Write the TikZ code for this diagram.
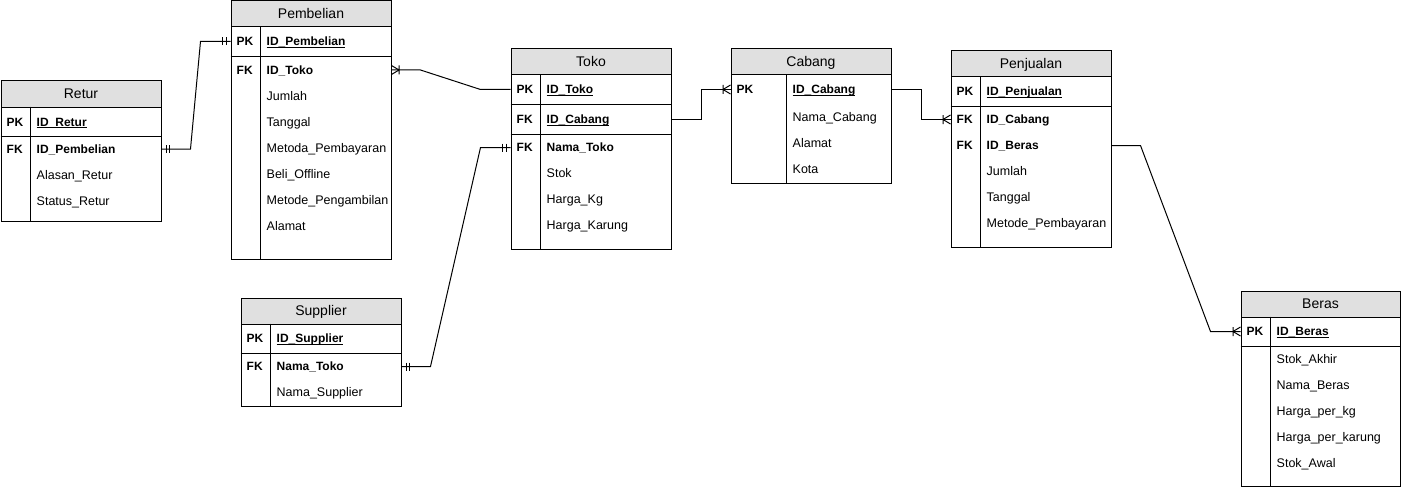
\documentclass[tikz,border=0pt]{standalone}
\usepackage{fontspec}
\setmainfont{Liberation Sans}
\definecolor{hdrgray}{RGB}{224,224,224}
\newcommand\keyul[1]{\setbox0=\hbox{#1}\rlap{\rule[-2pt]{\wd0}{0.9pt}}\box0}
\begin{document}
\begin{tikzpicture}[x=1pt,y=-1pt,
  frame/.style={draw, line width=1pt, anchor=north west, inner sep=0, minimum width=160pt},
  hdr/.style={draw, fill=hdrgray, line width=1pt, anchor=north west, inner sep=0,
    minimum width=160pt, minimum height=26pt, font=\fontsize{14}{16}\selectfont,
    text height=12.7pt, text depth=3pt},
  rule/.style={line width=1pt},
  key/.style={anchor=west, inner sep=0, text height=8.6pt, text depth=0pt,
    font=\fontsize{12}{14}\selectfont\bfseries},
  att/.style={anchor=west, inner sep=0, text height=8.6pt, text depth=0pt,
    font=\fontsize{12.5}{14}\selectfont},
  attb/.style={att, font=\fontsize{12}{14}\selectfont\bfseries},
  link/.style={line width=1pt},
  mand/.pic={\draw[link] (-4.5,-4) -- (-4.5,4) (-8,-4) -- (-8,4);},
  crow/.pic={\draw[link] (-7.5,-4.5) -- (-7.5,4.5) (0,-4.5) -- (-7.5,0) -- (0,4.5);}
]
\useasboundingbox (0,0) rectangle (1401,487);

% ---------------- Retur ----------------
\node[frame, minimum height=140pt] (retur) at (0.5,80.5) {};
\node[hdr] (returH) at (0.5,80.5) {Retur};
\draw[rule] (0.5,136) -- (160.5,136);
\draw[rule] (30.5,106.5) -- (30.5,220.5);
\node[key] (returPK) at (6.5,122) {PK};
\node[attb] (returPKa) at (36.5,122) {\keyul{ID\_Retur}};
\node[key] (returFK) at (6.5,149) {FK};
\node[attb] (returFKa) at (36.5,149) {ID\_Pembelian};
\node[att] (returA3) at (36.5,175) {Alasan\_Retur};
\node[att] (returA4) at (36.5,201) {Status\_Retur};

% ---------------- Pembelian ----------------
\node[frame, minimum height=258pt] (pemb) at (230.5,0.5) {};
\node[hdr] (pembH) at (230.5,0.5) {Pembelian};
\draw[rule] (230.5,56.5) -- (390.5,56.5);
\draw[rule] (260.5,26.5) -- (260.5,258.5);
\node[key] (pembPK) at (236.5,41.5) {PK};
\node[attb] (pembPKa) at (266.5,41.5) {\keyul{ID\_Pembelian}};
\node[key] (pembFK) at (236.5,70) {FK};
\node[attb] (pembFKa) at (266.5,70) {ID\_Toko};
\node[att] (pembA3) at (266.5,96) {Jumlah};
\node[att] (pembA4) at (266.5,122) {Tanggal};
\node[att] (pembA5) at (266.5,148) {Metoda\_Pembayaran};
\node[att] (pembA6) at (266.5,174) {Beli\_Offline};
\node[att] (pembA7) at (266.5,200) {Metode\_Pengambilan};
\node[att] (pembA8) at (266.5,226) {Alamat};

% ---------------- Toko ----------------
\node[frame, minimum height=200pt] (toko) at (510.5,48.5) {};
\node[hdr] (tokoH) at (510.5,48.5) {Toko};
\draw[rule] (510.5,104.5) -- (670.5,104.5);
\draw[rule] (510.5,134.5) -- (670.5,134.5);
\draw[rule] (540.5,74.5) -- (540.5,248.5);
\node[key] (tokoPK) at (516.5,89.5) {PK};
\node[attb] (tokoPKa) at (546.5,89.5) {\keyul{ID\_Toko}};
\node[key] (tokoFK1) at (516.5,119.5) {FK};
\node[attb] (tokoFK1a) at (546.5,119.5) {\keyul{ID\_Cabang}};
\node[key] (tokoFK2) at (516.5,147.5) {FK};
\node[attb] (tokoFK2a) at (546.5,147.5) {Nama\_Toko};
\node[att] (tokoA4) at (546.5,173.5) {Stok};
\node[att] (tokoA5) at (546.5,199.5) {Harga\_Kg};
\node[att] (tokoA6) at (546.5,225.5) {Harga\_Karung};

% ---------------- Cabang ----------------
\node[frame, minimum height=134pt] (cabang) at (730.5,48.5) {};
\node[hdr] (cabangH) at (730.5,48.5) {Cabang};
\draw[rule] (786.5,74.5) -- (786.5,182.5);
\node[key] (cabangPK) at (736.5,89.5) {PK};
\node[attb] (cabangPKa) at (792.5,89.5) {\keyul{ID\_Cabang}};
\node[att] (cabangA2) at (792.5,117.5) {Nama\_Cabang};
\node[att] (cabangA3) at (792.5,143.5) {Alamat};
\node[att] (cabangA4) at (792.5,169.5) {Kota};

% ---------------- Penjualan ----------------
\node[frame, minimum height=196pt] (penj) at (950.5,50.5) {};
\node[hdr] (penjH) at (950.5,50.5) {Penjualan};
\draw[rule] (950.5,106.5) -- (1110.5,106.5);
\draw[rule] (980.5,76.5) -- (980.5,246.5);
\node[key] (penjPK) at (956.5,91.5) {PK};
\node[attb] (penjPKa) at (986.5,91.5) {\keyul{ID\_Penjualan}};
\node[key] (penjFK1) at (956.5,119.5) {FK};
\node[attb] (penjFK1a) at (986.5,119.5) {ID\_Cabang};
\node[key] (penjFK2) at (956.5,145.5) {FK};
\node[attb] (penjFK2a) at (986.5,145.5) {ID\_Beras};
\node[att] (penjA4) at (986.5,171.5) {Jumlah};
\node[att] (penjA5) at (986.5,197.5) {Tanggal};
\node[att] (penjA6) at (986.5,223.5) {Metode\_Pembayaran};

% ---------------- Supplier ----------------
\node[frame, minimum height=108pt] (supp) at (240.5,297.5) {};
\node[hdr] (suppH) at (240.5,297.5) {Supplier};
\draw[rule] (240.5,353.5) -- (400.5,353.5);
\draw[rule] (270.5,323.5) -- (270.5,405.5);
\node[key] (suppPK) at (246.5,338.5) {PK};
\node[attb] (suppPKa) at (276.5,338.5) {\keyul{ID\_Supplier}};
\node[key] (suppFK) at (246.5,366.5) {FK};
\node[attb] (suppFKa) at (276.5,366.5) {Nama\_Toko};
\node[att] (suppA3) at (276.5,392.5) {Nama\_Supplier};

% ---------------- Beras ----------------
\node[frame, minimum width=159pt, minimum height=195pt] (beras) at (1240.5,290.5) {};
\node[hdr, minimum width=159pt] (berasH) at (1240.5,290.5) {Beras};
\draw[rule] (1240.5,346.5) -- (1399.5,346.5);
\draw[rule] (1270.5,316.5) -- (1270.5,485.5);
\node[key] (berasPK) at (1246.5,331.5) {PK};
\node[attb] (berasPKa) at (1276.5,331.5) {\keyul{ID\_Beras}};
\node[att] (berasA2) at (1276.5,359.5) {Stok\_Akhir};
\node[att] (berasA3) at (1276.5,385.5) {Nama\_Beras};
\node[att] (berasA4) at (1276.5,411.5) {Harga\_per\_kg};
\node[att] (berasA5) at (1276.5,437.5) {Harga\_per\_karung};
\node[att] (berasA6) at (1276.5,463.5) {Stok\_Awal};

% ---------------- Connectors ----------------
\draw[link] (retur.east |- returFK) -- (190.5,149) -- (200.5,41.5) -- (pemb.west |- pembPK);
\pic[xscale=-1] at (retur.east |- returFK) {mand};
\pic at (pemb.west |- pembPK) {mand};

\draw[link] (pemb.east |- pembFK) -- (420.5,70) -- (480.5,89.5) -- (toko.west |- tokoPK);
\pic[xscale=-1] at (pemb.east |- pembFK) {crow};

\draw[link] (toko.east |- tokoFK1) -- ++(30,0) |- (cabang.west |- cabangPK);
\pic at (cabang.west |- cabangPK) {crow};

\draw[link] (cabang.east |- cabangPK) -- ++(30,0) |- (penj.west |- penjFK1);
\pic at (penj.west |- penjFK1) {crow};

\draw[link] (penj.east |- penjFK2) -- (1140.5,145.5) -- (1210.5,331.5) -- (beras.west |- berasPK);
\pic at (beras.west |- berasPK) {crow};

\draw[link] (supp.east |- suppFK) -- (430.5,366.5) -- (480.5,147.5) -- (toko.west |- tokoFK2);
\pic[xscale=-1] at (supp.east |- suppFK) {mand};
\pic at (toko.west |- tokoFK2) {mand};
\end{tikzpicture}
\end{document}
